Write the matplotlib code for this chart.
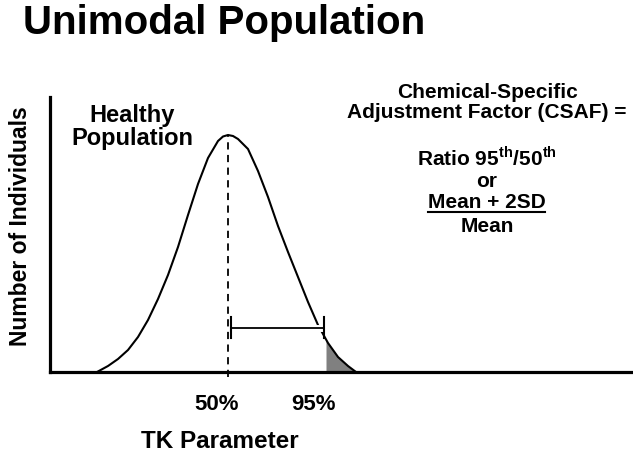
import matplotlib.pyplot as plt
import matplotlib.patheffects as pe
from matplotlib.lines import Line2D
import numpy as np

# bell curve (x: TK parameter, y: number of individuals)
curve_x = [47, 58, 68, 78, 88, 98, 108, 118, 128, 138, 148, 158, 168, 173, 178,
           183, 188, 198, 208, 218, 228, 238, 248, 258, 268, 278, 288, 298, 306]
curve_y = [0, 6, 13, 22, 35, 52, 73, 97, 125, 157, 188, 214, 231, 235.5, 237,
           236, 233, 223, 201, 175, 146, 120, 95, 70, 47, 29, 15, 6, 0]

p50 = 178
p95 = 276
bracket_y = 44
tick_labels = ["50%", "95%"]
tick_pos = [166.5, 263.5]

plt.rcParams["font.family"] = ["Liberation Sans", "DejaVu Sans"]
plt.rcParams["font.weight"] = "bold"
plt.rcParams["mathtext.fontset"] = "custom"
plt.rcParams["mathtext.rm"] = "Liberation Sans:bold"
plt.rcParams["mathtext.bf"] = "Liberation Sans:bold"

W, H = 633, 458
fig = plt.figure(figsize=(W / 100, H / 100), dpi=100)
ax = fig.add_axes([50 / W, (H - 372) / H, (W - 50) / W, (372 - 97) / H])
ax.set_xlim(0, 583)
ax.set_ylim(0, 275)

cx = np.array(curve_x, dtype=float)
cy = np.array(curve_y, dtype=float)
shade_x = np.concatenate([[p95], cx[cx > p95]])
shade_y = np.interp(shade_x, cx, cy)
ax.fill_between(shade_x, shade_y, color="#808080", lw=0)
ax.plot(cx, cy, color="black", lw=1.5, clip_on=False, solid_joinstyle="round")
ax.plot([p50, p50], [-5, max(curve_y)], color="black", lw=1.3, ls=(0, (4, 3)), clip_on=False)

# 50th to 95th bracket
ax.plot([p50 + 3, p95 - 2], [bracket_y, bracket_y], color="black", lw=1.3,
        solid_capstyle="butt",
        path_effects=[pe.Stroke(linewidth=5, foreground="white"), pe.Normal()])
for bx in (p50 + 3, p95 - 2):
    ax.plot([bx, bx], [bracket_y - 10, bracket_y + 11], color="black", lw=1.5)

for s in ("top", "right"):
    ax.spines[s].set_visible(False)
for s in ("left", "bottom"):
    ax.spines[s].set_linewidth(2.3)
ax.set_yticks([])
ax.set_xticks(tick_pos, tick_labels, fontsize=16, fontweight="bold")
ax.tick_params(axis="x", length=0, pad=16)


def ftext(x, y, s, **kw):
    return fig.text(x / W, 1 - y / H, s, **kw)


ftext(132, 122, "Healthy", ha="center", va="baseline", fontsize=17)
ftext(132, 145, "Population", ha="center", va="baseline", fontsize=17)

ftext(220, 442, "TK Parameter", ha="center", va="center", fontsize=17.5)
ftext(21, 226, "Number of Individuals", ha="center", va="center", rotation=90, fontsize=16.5)
ftext(23, 34, "Unimodal Population", ha="left", va="baseline", fontsize=29)

cxp = 487
ftext(cxp, 98, "Chemical-Specific", ha="center", va="baseline", fontsize=15)
ftext(cxp, 118, "Adjustment Factor (CSAF) =", ha="center", va="baseline", fontsize=15)
ftext(cxp, 165, r"Ratio 95$^{\mathbf{th}}$/50$^{\mathbf{th}}$", ha="center", va="baseline",
      fontsize=15)
ftext(cxp, 187, "or", ha="center", va="baseline", fontsize=15)
ftext(cxp, 208, "Mean + 2SD", ha="center", va="baseline", fontsize=15)
fig.add_artist(Line2D([428 / W, 545 / W], [1 - 212 / H, 1 - 212 / H], color="black", lw=1.5))
ftext(cxp, 232, "Mean", ha="center", va="baseline", fontsize=15)

fig.savefig("out.png", dpi=100)
